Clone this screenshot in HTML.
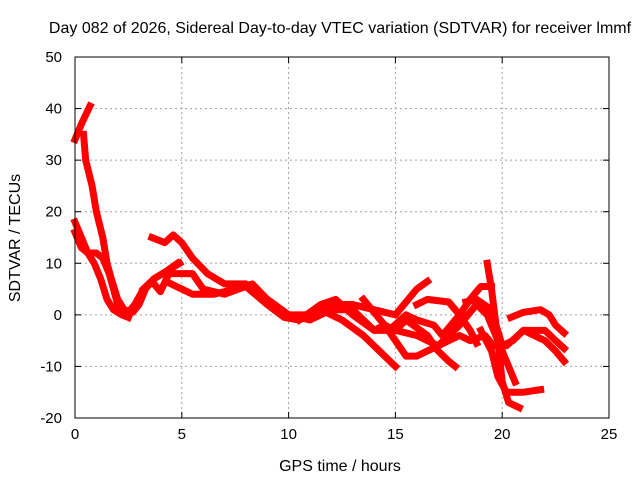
<!DOCTYPE html>
<html><head><meta charset="utf-8"><style>
body{margin:0;background:#fff}
svg{display:block;font-family:"Liberation Sans",sans-serif}
</style></head><body>
<svg id="chart" width="640" height="480">
<text x="340" y="33" text-anchor="middle" font-size="16">Day 082 of 2026, Sidereal Day-to-day VTEC variation (SDTVAR) for receiver lmmf</text>
<text x="340" y="471" text-anchor="middle" font-size="16">GPS time / hours</text>
<text transform="translate(20,238) rotate(-90)" text-anchor="middle" font-size="16">SDTVAR / TECUs</text>
<g id="grid"></g><g id="series"></g><g id="axes"></g>
</svg>
<script>
const xTicks=[0,5,10,15,20,25];
const yTicks=[-20,-10,0,10,20,30,40,50];
const s1=[[0,34],[0.3,37],[0.7,40.5]];
const s2=[[0.4,35],[0.5,30],[0.8,25],[1.0,20],[1.3,15],[1.5,10],[1.7,7],[2.0,3],[2.3,1],[2.7,0.5],[3.0,2],[3.3,5],[3.7,7],[4.3,8.5],[4.8,10]];
const s3=[[0,18],[0.3,15],[0.6,12],[0.9,10],[1.2,7],[1.5,3],[1.8,1],[2.2,0],[2.5,-0.5]];
const s4=[[0,16],[0.3,13],[0.6,12],[1.0,12],[1.3,11],[1.6,8],[1.8,5],[2.0,2],[2.4,0],[2.8,2],[3.2,5],[3.7,7],[4.3,8.5],[4.9,10]];
const s5=[[3.6,15],[4.2,14],[4.6,15.5],[5.0,14],[5.5,11],[6.2,8],[7,6],[8,6],[8.5,5],[9,3],[10,0],[11,0],[12,2],[13,2],[14,1],[15,0],[16,5],[16.5,6.5]];
const s6=[[3.2,5],[3.6,6.5],[4.0,4.5],[4.4,8],[5.0,8],[5.5,8],[6,5],[7,4],[8,5.5],[9,2],[9.8,-0.5],[10.5,-1],[11.5,1],[12.5,-1],[13.5,-4],[14.5,-8],[15,-10]];
const s7=[[4.5,6],[5,5],[5.5,4],[6.5,4],[7.5,5],[8.3,6],[9,3],[10,0],[11,-1],[12,1],[13,1],[13.5,-1],[14,-3],[14.5,-2],[15,-3],[15.5,-1],[16.5,-4],[17,-7],[17.5,-9],[17.8,-10]];
const s8=[[10.5,-1],[11.5,2],[12.2,3],[13,0],[14,-3],[15,-3],[16,-4],[17,-6],[17.5,-5],[18,-4],[18.5,-5],[19.2,-4],[19.6,-6],[20.2,-6],[21,-3],[22,-3],[22.5,-5],[22.9,-6.5]];
const s9=[[19.3,10],[19.5,5],[19.8,-5],[20,-13],[20.3,-17],[20.8,-18]];
const s10=[[19.0,-3],[19.5,-7],[19.8,-12],[20.2,-15],[21,-15],[21.8,-14.5]];
const s11=[[18.3,2.5],[18.8,3],[19.5,1],[20,-6],[20.5,-5],[21,-3],[21.5,-4],[22,-5],[22.5,-7],[22.9,-9]];
const s12=[[20.4,-0.5],[21,0.5],[21.8,1],[22.2,0],[22.5,-2],[22.9,-3.5]];
const s13=[[14.7,-3],[15.5,0],[16,-1],[16.8,-2],[17.2,-4],[18,0],[18.5,3],[19,5.5],[19.5,5.5]];
const s14=[[13.5,3],[14.5,-2],[15,-5],[15.5,-8],[16,-8],[16.5,-7],[17,-6],[18,-2],[18.8,2],[19.3,0],[19.8,-5],[20.3,-10],[20.6,-13]];
const s15=[[16,2],[16.5,3],[17.5,2.5],[18,0],[18.5,-3],[18.8,-5.5]];
const allSeries=[s1,s2,s3,s4,s5,s6,s7,s8,s9,s10,s11,s12,s13,s14,s15];
const L=75,R=609,T=57,B=418;
const X=h=>L+(h-0)/(25-0)*(R-L);
const Y=v=>B-(v+20)/70*(B-T);
const NS="http://www.w3.org/2000/svg";
function mk(p,t,a){const e=document.createElementNS(NS,t);for(const k in a)e.setAttribute(k,a[k]);p.appendChild(e);return e;}
const grid=document.getElementById('grid'),axes=document.getElementById('axes'),ser=document.getElementById('series');
xTicks.forEach(t=>{
 if(t>0&&t<25){const g=mk(grid,'line',{x1:X(t),x2:X(t),y1:T,y2:B,stroke:'#a0a0a0','stroke-dasharray':'2,3'});
 
 }
 mk(axes,'line',{x1:X(t),x2:X(t),y1:B,y2:B-6,stroke:'#000'});
 mk(axes,'line',{x1:X(t),x2:X(t),y1:T,y2:T+6,stroke:'#000'});
 const tx=mk(axes,'text',{x:X(t),y:B+21,'text-anchor':'middle','font-size':15});tx.textContent=t;
 
 
});
yTicks.forEach(t=>{
 if(t>-20&&t<50){const g=mk(grid,'line',{x1:L,x2:R,y1:Y(t),y2:Y(t),stroke:'#a0a0a0','stroke-dasharray':'2,3'});
 
 }
 mk(axes,'line',{x1:L,x2:L+6,y1:Y(t),y2:Y(t),stroke:'#000'});
 mk(axes,'line',{x1:R,x2:R-6,y1:Y(t),y2:Y(t),stroke:'#000'});
 const tx=mk(axes,'text',{x:L-13,y:Y(t)+5,'text-anchor':'end','font-size':15});tx.textContent=t;
 
 
});
const fr=mk(axes,'rect',{x:L,y:T,width:R-L,height:B-T,fill:'none',stroke:'#000'});


allSeries.forEach((s,i)=>{
 const p=mk(ser,'polyline',{points:s.map(d=>X(d[0])+','+Y(d[1])).join(' '),fill:'none',stroke:'#ff0000','stroke-width':7,'stroke-linejoin':'round','stroke-linecap':'square'});
 
 
});
</script>
</body></html>
